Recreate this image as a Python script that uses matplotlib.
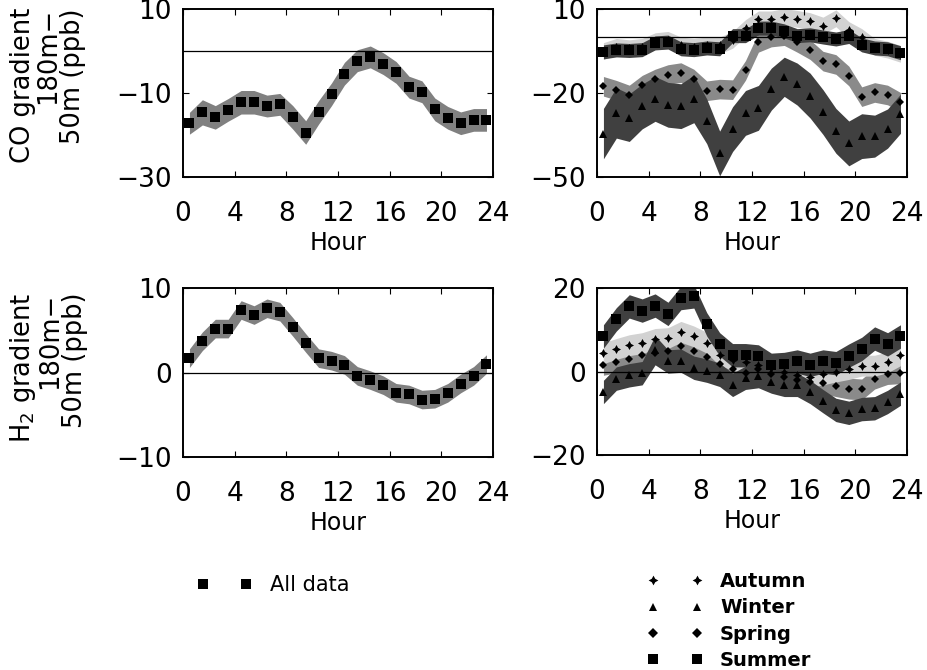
# CO / H2 gradient diurnal cycles (180m - 50m), all data and by season

import numpy as np
import matplotlib.pyplot as plt
from matplotlib.lines import Line2D

plt.rcParams['font.family'] = ['DejaVu Sans']
plt.rcParams['font.size'] = 16
plt.rcParams['xtick.direction'] = 'in'
plt.rcParams['ytick.direction'] = 'in'
plt.rcParams['xtick.top'] = True
plt.rcParams['ytick.right'] = True
plt.rcParams['xtick.major.size'] = 4
plt.rcParams['ytick.major.size'] = 4
plt.rcParams['xtick.labelsize'] = 19
plt.rcParams['ytick.labelsize'] = 19
plt.rcParams['axes.linewidth'] = 1.4

# hour of day (bin centres)
hours = np.arange(0.5, 24, 1.0)

# CO, all data
co_all = [-17.2, -14.6, -15.8, -14.0, -12.2, -12.2, -13.1, -12.7, -15.8, -19.4, -14.6, -10.3,
          -5.4, -2.3, -1.4, -3.0, -5.1, -8.6, -9.7, -13.9, -15.9, -17.2, -16.4, -16.4]
co_all_err = [2.6, 3.0, 2.8, 2.7, 2.8, 2.8, 2.6, 2.6, 2.8, 2.8, 2.8, 2.7,
              2.7, 2.6, 2.6, 2.6, 2.6, 2.6, 2.6, 2.7, 2.7, 2.7, 2.7, 2.7]

# CO by season
co_autumn = [-5.0, -3.5, -4.0, -3.5, -1.5, -1.0, -3.0, -3.5, -3.0, -3.0, -1.0, 3.2,
             6.3, 6.3, 7.2, 6.5, 5.7, 4.1, 6.7, 2.5, 0.0, -3.5, -4.5, -6.0]
co_autumn_err = [3.0] * 24
co_winter = [-34.5, -27.1, -28.8, -24.8, -22.1, -24.2, -24.7, -22.1, -30.1, -41.6, -32.9, -27.1,
             -25.3, -18.6, -14.2, -16.8, -20.9, -26.8, -33.5, -38.0, -35.4, -35.4, -32.7, -27.4]
co_winter_err = [9.0, 9.0, 8.5, 8.0, 8.0, 8.0, 8.0, 8.5, 8.0, 8.0, 8.0, 8.0,
                 8.0, 7.5, 7.0, 7.5, 8.0, 8.0, 8.0, 8.0, 8.0, 7.5, 7.0, 7.0]
co_spring = [-17.6, -19.0, -20.7, -17.2, -15.0, -13.4, -12.7, -15.0, -19.2, -18.6, -18.8, -11.9,
             -1.9, 0.0, 0.5, -1.9, -4.5, -8.6, -9.8, -13.9, -21.3, -19.8, -20.7, -23.3]
co_spring_err = [3.5] * 24
co_summer = [-5.3, -4.6, -4.8, -4.5, -2.1, -1.8, -4.2, -4.5, -3.9, -4.2, 0.5, 0.5,
             3.2, 3.2, 2.2, 0.5, 0.8, 0.0, -0.7, 0.2, -2.8, -3.9, -4.2, -5.6]
co_summer_err = [2.5] * 24

# H2, all data
h2_all = [1.7, 3.7, 5.2, 5.2, 7.4, 6.8, 7.6, 7.2, 5.4, 3.5, 1.7, 1.4,
          0.9, -0.4, -0.9, -1.5, -2.4, -2.6, -3.2, -3.1, -2.4, -1.3, -0.4, 1.0]
h2_all_err = [1.1] * 24

# H2 by season
h2_autumn = [4.4, 5.4, 6.3, 6.8, 7.8, 8.0, 9.5, 8.4, 6.9, 3.9, 2.8, 2.2,
             1.6, 0.8, 0.0, -0.8, -1.3, -0.7, 0.0, 0.6, 1.4, 1.4, 2.2, 3.9]
h2_autumn_err = [2.5] * 24
h2_winter = [-4.9, -1.7, -0.9, -0.4, 5.1, 2.4, 2.6, 0.9, 0.2, -0.8, -3.2, -1.5,
             -1.1, -2.4, -3.2, -3.2, -4.9, -7.1, -9.2, -9.9, -9.0, -8.8, -7.3, -5.3]
h2_winter_err = [2.8, 2.8, 2.8, 2.8, 3.5, 2.8, 2.8, 2.8, 2.8, 2.8, 2.8, 2.8,
                 2.8, 2.8, 2.8, 2.8, 2.8, 2.8, 2.8, 2.8, 2.8, 2.8, 2.8, 2.8]
h2_spring = [1.6, 2.2, 3.0, 3.9, 4.5, 5.0, 6.2, 5.0, 3.5, 1.8, 0.5, -0.3,
             0.5, -0.5, -1.2, -2.0, -2.5, -2.8, -3.5, -4.1, -4.3, -1.7, -0.6, -0.4]
h2_spring_err = [2.5] * 24
h2_summer = [8.4, 12.5, 15.6, 14.6, 15.8, 13.8, 17.6, 18.0, 11.3, 6.5, 3.9, 3.9,
             3.6, 1.6, 1.8, 2.4, 1.6, 2.4, 2.0, 3.8, 5.4, 7.9, 6.5, 8.4]
h2_summer_err = [2.8] * 24

season_names = ['Autumn', 'Winter', 'Spring', 'Summer']
season_markers = {'Autumn': (4, 1, 0), 'Winter': '^', 'Spring': 'D', 'Summer': 's'}
season_sizes = {'Autumn': 6.5, 'Winter': 5.5, 'Spring': 4.5, 'Summer': 6.5}
season_colors = {'Autumn': '#d2d2d2', 'Winter': '#404040', 'Spring': '#8a8a8a', 'Summer': '#404040'}
# drawing order (later bands hide earlier markers)
draw_order = ['Spring', 'Autumn', 'Winter', 'Summer']


def band(ax, y, err, color, marker, ms):
    y = np.asarray(y)
    err = np.asarray(err)
    ax.fill_between(hours, y - err, y + err, color=color, lw=0)
    h, = ax.plot(hours, y, ls='none', marker=marker, ms=ms, color='k', mec='k', mew=0)
    return h


def style(ax, ylim, yticks):
    ax.axhline(0, color='k', lw=0.9)
    ax.set_xlim(0, 24)
    ax.set_xticks([0, 4, 8, 12, 16, 20, 24])
    ax.set_ylim(ylim)
    ax.set_yticks(yticks)
    ax.tick_params(axis='x', pad=17.5)
    ax.tick_params(axis='y', pad=8)
    ax.set_xlabel('Hour', labelpad=3, fontsize=17)


fig = plt.figure(figsize=(9.28, 6.7), dpi=100)
ax_tl = fig.add_axes([0.1972, 0.7358, 0.334, 0.2507])
ax_tr = fig.add_axes([0.6433, 0.7358, 0.334, 0.2507])
ax_bl = fig.add_axes([0.1972, 0.3179, 0.334, 0.2522])
ax_br = fig.add_axes([0.6433, 0.3209, 0.334, 0.2492])

band(ax_tl, co_all, co_all_err, '#808080', 's', 6.5)
band(ax_bl, h2_all, h2_all_err, '#808080', 's', 6.5)

co_season = {'Autumn': (co_autumn, co_autumn_err), 'Winter': (co_winter, co_winter_err),
             'Spring': (co_spring, co_spring_err), 'Summer': (co_summer, co_summer_err)}
h2_season = {'Autumn': (h2_autumn, h2_autumn_err), 'Winter': (h2_winter, h2_winter_err),
             'Spring': (h2_spring, h2_spring_err), 'Summer': (h2_summer, h2_summer_err)}

for s in draw_order:
    band(ax_tr, co_season[s][0], co_season[s][1], season_colors[s], season_markers[s], season_sizes[s])
    band(ax_br, h2_season[s][0], h2_season[s][1], season_colors[s], season_markers[s], season_sizes[s])

style(ax_tl, (-30, 10), [-30, -10, 10])
style(ax_tr, (-50, 10), [-50, -20, 10])
style(ax_bl, (-10, 10), [-10, 0, 10])
style(ax_br, (-20, 20), [-20, 0, 20])

# y titles (lines end together at the top)
fig.text(0.0515, 0.988, 'CO gradient\n180m\u2212\n50m (ppb)', rotation=90, ha='center', va='top',
         multialignment='right', linespacing=0.95, fontsize=18.5)
fig.text(0.0515, 0.5627, 'H$_2$ gradient\n180m\u2212\n50m (ppb)', rotation=90, ha='center', va='top',
         multialignment='right', linespacing=0.95, fontsize=18.5)

# legends
fig.legend([Line2D([], [], ls='none', marker='s', ms=7, color='k', mew=0)], ['All data'],
           loc='center left', bbox_to_anchor=(0.212, 0.127), bbox_transform=fig.transFigure,
           frameon=False, numpoints=2, handlelength=2.67, handletextpad=0.87, fontsize=15,
           borderpad=0, borderaxespad=0)

season_handles = [Line2D([], [], ls='none', marker=season_markers[s], ms=season_sizes[s] + 0.5,
                         color='k', mew=0) for s in season_names]
fig.legend(season_handles, season_names, loc='upper left',
           bbox_to_anchor=(0.6974, 0.146), bbox_transform=fig.transFigure,
           frameon=False, numpoints=2, handlelength=2.87, handletextpad=0.88,
           labelspacing=0.37, borderpad=0, borderaxespad=0,
           prop={'size': 14, 'weight': 'bold'})

fig.savefig('out.png', dpi=100)
